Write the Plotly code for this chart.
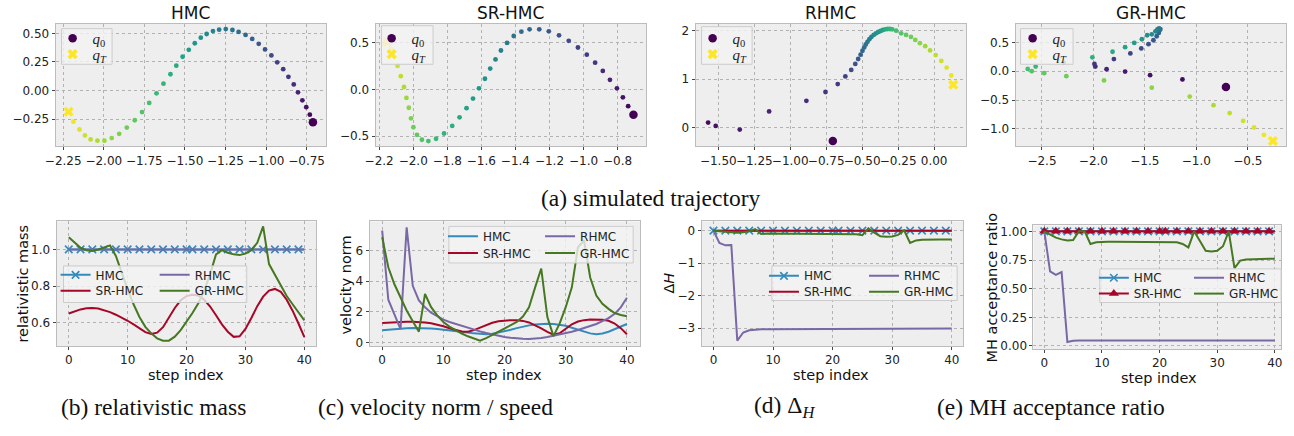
import plotly.graph_objects as go

W, H = 1294, 436


def px(x):
    return x / W


def py(y):
    return 1 - y / H


# ---------------- data ----------------
steps = list(range(41))
method_names = ["HMC", "SR-HMC", "RHMC", "GR-HMC"]

# simulated trajectories (q0 first, qT last)
hmc_x = [-0.711, -0.730, -0.752, -0.776, -0.803, -0.829, -0.862, -0.894, -0.931, -0.967, -1.006,
         -1.045, -1.085, -1.126, -1.169, -1.207, -1.248, -1.289, -1.327, -1.366, -1.402, -1.439,
         -1.476, -1.514, -1.553, -1.589, -1.632, -1.675, -1.720, -1.764, -1.809, -1.858, -1.905,
         -1.951, -1.996, -2.039, -2.081, -2.116, -2.150, -2.187, -2.217]
hmc_y = [-0.279, -0.212, -0.146, -0.086, -0.016, 0.053, 0.119, 0.186, 0.246, 0.307, 0.359, 0.408,
         0.451, 0.486, 0.512, 0.529, 0.537, 0.532, 0.520, 0.494, 0.462, 0.413, 0.356, 0.295, 0.217,
         0.142, 0.059, -0.025, -0.109, -0.189, -0.261, -0.325, -0.380, -0.417, -0.440, -0.440,
         -0.429, -0.394, -0.342, -0.273, -0.186]

sr_x = [-0.707, -0.738, -0.769, -0.804, -0.845, -0.887, -0.932, -0.981, -1.033, -1.087, -1.144,
        -1.204, -1.260, -1.317, -1.365, -1.410, -1.449, -1.485, -1.517, -1.548, -1.579, -1.614,
        -1.649, -1.687, -1.728, -1.771, -1.819, -1.866, -1.911, -1.949, -1.978, -1.999, -2.013,
        -2.026, -2.040, -2.054, -2.073, -2.092, -2.110, -2.130, -2.153]
sr_y = [-0.271, -0.180, -0.085, 0.011, 0.102, 0.197, 0.285, 0.370, 0.447, 0.518, 0.577, 0.620,
        0.641, 0.641, 0.616, 0.570, 0.496, 0.415, 0.320, 0.222, 0.113, 0.011, -0.099, -0.201,
        -0.299, -0.391, -0.472, -0.528, -0.553, -0.539, -0.486, -0.405, -0.310, -0.197, -0.092,
        0.025, 0.141, 0.250, 0.345, 0.430, 0.505]

rh_x = [-0.704, -1.571, -1.518, -1.351, -1.147, -0.888, -0.755, -0.670, -0.617, -0.576, -0.548,
        -0.528, -0.511, -0.498, -0.486, -0.475, -0.463, -0.450, -0.436, -0.420, -0.404, -0.388,
        -0.372, -0.356, -0.339, -0.323, -0.307, -0.291, -0.264, -0.229, -0.195, -0.161, -0.131,
        -0.099, -0.062, -0.028, 0.011, 0.050, 0.087, 0.119, 0.133]
rh_y = [-0.270, 0.108, 0.041, -0.034, 0.338, 0.554, 0.736, 0.899, 1.054, 1.189, 1.311, 1.412,
        1.500, 1.581, 1.649, 1.709, 1.764, 1.818, 1.865, 1.905, 1.939, 1.966, 1.986, 2.007, 2.020,
        2.027, 2.027, 2.020, 1.993, 1.939, 1.905, 1.865, 1.804, 1.736, 1.676, 1.588, 1.493, 1.372,
        1.236, 1.074, 0.885]

gr_x = [-0.712, -1.135, -1.449, -1.692, -1.872, -1.981, -1.990, -1.801, -1.641, -1.535, -1.465,
        -1.417, -1.385, -1.365, -1.356, -1.349, -1.362, -1.378, -1.397, -1.433, -1.478, -1.529,
        -1.603, -1.692, -1.814, -2.010, -2.288, -2.561, -2.638, -2.599, -2.478, -2.263, -1.897,
        -1.433, -1.064, -0.833, -0.676, -0.545, -0.439, -0.343, -0.256]
gr_y = [-0.274, -0.143, -0.069, -0.006, 0.034, 0.080, 0.126, 0.211, 0.309, 0.394, 0.469, 0.537,
        0.606, 0.663, 0.709, 0.731, 0.743, 0.726, 0.691, 0.640, 0.623, 0.554, 0.491, 0.417, 0.337,
        0.240, 0.154, 0.080, 0.040, 0.000, -0.034, -0.086, -0.160, -0.286, -0.440, -0.589, -0.726,
        -0.863, -0.977, -1.103, -1.211]

# relativistic mass
mass_hmc = [1.0] * 41
mass_rh = [1.0] * 41
mass_sr = [0.650, 0.662, 0.672, 0.678, 0.680, 0.677, 0.668, 0.657, 0.643, 0.627, 0.610, 0.590,
           0.568, 0.548, 0.538, 0.545, 0.575, 0.625, 0.680, 0.722, 0.745, 0.752, 0.748, 0.725,
           0.688, 0.640, 0.590, 0.550, 0.522, 0.525, 0.565, 0.625, 0.690, 0.742, 0.775, 0.784,
           0.768, 0.725, 0.665, 0.595, 0.520]
mass_gr = [1.067, 1.036, 1.009, 0.996, 0.991, 1.000, 1.013, 1.022, 0.964, 0.870, 0.780, 0.700,
           0.631, 0.577, 0.541, 0.514, 0.501, 0.501, 0.523, 0.559, 0.604, 0.652, 0.706, 0.775,
           0.865, 0.973, 0.996, 0.982, 0.973, 0.969, 0.978, 0.996, 1.036, 1.126, 0.920, 0.860,
           0.800, 0.745, 0.700, 0.655, 0.612]

# velocity norm
vel_hmc = [0.82, 0.86, 0.90, 0.93, 0.95, 0.96, 0.96, 0.95, 0.93, 0.90, 0.86, 0.82, 0.77, 0.72,
           0.66, 0.61, 0.57, 0.56, 0.58, 0.65, 0.74, 0.84, 0.95, 1.05, 1.13, 1.19, 1.22, 1.23,
           1.22, 1.18, 1.10, 0.98, 0.85, 0.72, 0.61, 0.56, 0.60, 0.72, 0.88, 1.05, 1.22]
vel_sr = [1.28, 1.31, 1.33, 1.35, 1.36, 1.36, 1.35, 1.32, 1.27, 1.18, 1.07, 0.94, 0.82, 0.73,
          0.72, 0.82, 0.98, 1.15, 1.30, 1.40, 1.45, 1.47, 1.46, 1.42, 1.32, 1.15, 0.93, 0.70, 0.52,
          0.62, 0.92, 1.20, 1.38, 1.47, 1.51, 1.52, 1.50, 1.43, 1.25, 0.95, 0.55]
vel_rh = [7.28, 2.80, 1.85, 0.88, 7.50, 3.70, 2.75, 2.30, 1.95, 1.70, 1.50, 1.35, 1.22, 1.10, 0.98,
          0.86, 0.74, 0.63, 0.53, 0.45, 0.38, 0.32, 0.28, 0.26, 0.25, 0.27, 0.31, 0.37, 0.45, 0.53,
          0.62, 0.72, 0.83, 0.95, 1.08, 1.22, 1.40, 1.60, 1.88, 2.30, 2.92]
vel_gr = [6.85, 4.90, 3.80, 2.90, 2.10, 1.40, 0.72, 3.17, 2.31, 1.78, 1.35, 1.05, 0.80, 0.60, 0.42,
          0.25, 0.13, 0.30, 0.50, 0.70, 0.90, 1.10, 1.35, 1.70, 2.30, 3.60, 4.82, 1.67, 0.43, 1.24,
          2.31, 3.60, 6.20, 6.64, 4.24, 3.06, 2.53, 2.20, 1.93, 1.80, 1.72]

# Delta H
dh_hmc = [0.0] * 41
dh_sr = [0.0] * 41
dh_rh = [0.0, -0.38, -0.45, -0.44, -3.38, -3.13, -3.06, -3.04, -3.03, -3.03, -3.03, -3.03, -3.03,
         -3.03, -3.03, -3.03, -3.02, -3.02, -3.02, -3.02, -3.02, -3.02, -3.02, -3.02, -3.02, -3.02,
         -3.02, -3.02, -3.02, -3.02, -3.02, -3.01, -3.01, -3.01, -3.01, -3.01, -3.01, -3.01, -3.01,
         -3.01, -3.01]
dh_gr = [0.0, -0.02, -0.04, -0.05, -0.06, -0.05, -0.02, 0.05, -0.10, -0.09, -0.09, -0.09, -0.09,
         -0.09, -0.09, -0.09, -0.09, -0.09, -0.09, -0.09, -0.09, -0.09, -0.09, -0.09, -0.11, -0.14,
         0.07, -0.06, -0.17, -0.19, -0.18, -0.13, 0.01, -0.38, -0.30, -0.28, -0.27, -0.27, -0.27,
         -0.27, -0.27]

# MH acceptance ratio
acc_hmc = [1.0] * 41
acc_sr = [1.0] * 41
acc_rh = [1.0, 0.65, 0.62, 0.645, 0.035, 0.045, 0.047, 0.048, 0.048, 0.048, 0.048, 0.048, 0.048,
          0.048, 0.048, 0.048, 0.048, 0.048, 0.048, 0.048, 0.048, 0.048, 0.048, 0.048, 0.048,
          0.048, 0.048, 0.048, 0.048, 0.048, 0.048, 0.048, 0.048, 0.048, 0.048, 0.048, 0.048,
          0.048, 0.048, 0.048, 0.048]
acc_gr = [1.0, 0.97, 0.945, 0.93, 0.92, 0.925, 1.0, 1.0, 0.89, 0.905, 0.91, 0.91, 0.91, 0.91,
          0.91, 0.91, 0.91, 0.91, 0.91, 0.91, 0.91, 0.91, 0.91, 0.905, 0.89, 0.86, 1.0, 0.92, 0.83,
          0.825, 0.83, 0.87, 1.0, 0.68, 0.745, 0.755, 0.758, 0.76, 0.76, 0.762, 0.762]

# steps where markers are drawn on the constant curves
marker_steps = [0, 2, 4, 6, 8, 10, 12, 14, 16, 18, 20, 21, 23, 25, 27, 29, 31, 33, 35, 37, 39]

# ---------------- style ----------------
C_HMC, C_SR, C_RH, C_GR = "#348ABD", "#A60628", "#7A68A6", "#467821"
V0, VT = "#440154", "#fde725"
FONT = "DejaVu Sans"
SERIF = "Liberation Serif"
TICK_SIZE = 12
LEG_SIZE = 12
LABEL_SIZE = 14.5
TITLE_SIZE = 17
CAP_SIZE = 23.5

fig = go.Figure()

# panel pixel boxes: (left, top, right, bottom)
boxes = [
    (45, 23, 318, 147), (368, 23, 641, 147), (691, 23, 964, 147), (1014, 23, 1287, 147),
    (46, 223, 308, 349), (362, 223, 635, 349), (697, 223, 961, 349), (1032, 227, 1282, 352),
]
ranges = [
    ([-2.297, -0.630], [-0.489, 0.584]),
    ([-2.221, -0.633], [-0.609, 0.701]),
    ([-1.658, 0.222], [-0.378, 2.135]),
    ([-2.756, -0.128], [-1.303, 0.823]),
    ([-2.07, 42.0], [0.472, 1.153]),
    ([-2.05, 42.16], [-0.21, 7.88]),
    ([-2.0, 41.9], [-3.546, 0.284]),
    ([-1.89, 41.09], [-0.026, 1.052]),
]
ticks = [
    ([-2.25, -2.0, -1.75, -1.5, -1.25, -1.0, -0.75], ".2f", [-0.25, 0.0, 0.25, 0.5], ".2f"),
    ([-2.2, -2.0, -1.8, -1.6, -1.4, -1.2, -1.0, -0.8], ".1f", [-0.5, 0.0, 0.5], ".1f"),
    ([-1.5, -1.25, -1.0, -0.75, -0.5, -0.25, 0.0], ".2f", [0, 1, 2], "d"),
    ([-2.5, -2.0, -1.5, -1.0, -0.5], ".1f", [-1.0, -0.5, 0.0, 0.5], ".1f"),
    ([0, 10, 20, 30, 40], "d", [0.6, 0.8, 1.0], ".1f"),
    ([0, 10, 20, 30, 40], "d", [0, 2, 4, 6], "d"),
    ([0, 10, 20, 30, 40], "d", [-3, -2, -1, 0], "d"),
    ([0, 10, 20, 30, 40], "d", [0.0, 0.25, 0.5, 0.75, 1.0], ".2f"),
]

axis_common = dict(
    showgrid=True, gridcolor="#b2b2b2", griddash="dot", gridwidth=0.8,
    showline=True, linecolor="#bcbcbc", linewidth=1, mirror=True,
    ticks="outside", ticklen=3, tickwidth=0.8, tickcolor="#444", tickangle=0,
    tickfont=dict(family=FONT, size=TICK_SIZE, color="#222"), zeroline=False,
)

layout_axes = {}
for i, ((l, t, r, b), (xr, yr), (xt, xf, yt, yf)) in enumerate(zip(boxes, ranges, ticks)):
    n = "" if i == 0 else str(i + 1)
    layout_axes["xaxis" + n] = dict(axis_common, domain=[px(l), px(r)], range=xr, tickvals=xt,
                                    tickformat=xf, anchor="y" + n)
    layout_axes["yaxis" + n] = dict(axis_common, domain=[py(b), py(t)], range=yr, tickvals=yt,
                                    tickformat=yf, anchor="x" + n)


def ax(i):
    n = "" if i == 0 else str(i + 1)
    return dict(xaxis="x" + n, yaxis="y" + n)


legends = {}


def add_legend(x_left_px, y_center_px, font=None):
    n = len(legends) + 1
    name = "legend" if n == 1 else "legend%d" % n
    legends[name] = dict(
        x=px(x_left_px), y=py(y_center_px), xanchor="left", yanchor="middle",
        bgcolor="rgba(0,0,0,0)", borderwidth=0,
        font=font or dict(family=FONT, size=LEG_SIZE, color="#222"),
    )
    return name


shapes = []


def add_box(l, t, r, b):
    shapes.append(dict(type="rect", xref="paper", yref="paper", x0=px(l), x1=px(r), y0=py(b),
                       y1=py(t), fillcolor="rgba(242,242,242,0.8)",
                       line=dict(color="#cccccc", width=1), layer="above"))


# ---------------- top row: trajectories ----------------
trajs = [(hmc_x, hmc_y), (sr_x, sr_y), (rh_x, rh_y), (gr_x, gr_y)]
top_leg_boxes = [(51, 28, 102, 64), (374, 25, 426, 64), (697, 26, 748, 64), (1019, 28, 1072, 64)]
top_leg_marker_x = [67, 389, 713, 1036]
qfont = dict(family=SERIF, size=15, color="#222")
for i, (tx, ty) in enumerate(trajs):
    fig.add_trace(go.Scatter(
        x=tx[1:-1], y=ty[1:-1], mode="markers", showlegend=False,
        marker=dict(color=steps[1:-1], colorscale="Viridis", cmin=0, cmax=40, size=4.8,
                    line=dict(width=0)),
        **ax(i)))
    l0 = add_legend(top_leg_marker_x[i] - 25, 38, qfont)
    fig.add_trace(go.Scatter(x=[tx[0]], y=[ty[0]], mode="markers", name="<i>q</i><sub>0</sub>",
                             marker=dict(color=V0, size=8.5, symbol="circle"), legend=l0,
                             **ax(i)))
    l1 = add_legend(top_leg_marker_x[i] - 25, 54, qfont)
    fig.add_trace(go.Scatter(x=[tx[-1]], y=[ty[-1]], mode="markers",
                             name="<i>q</i><sub><i>T</i></sub>",
                             marker=dict(color=VT, size=9, symbol="x", line=dict(width=0)),
                             legend=l1, **ax(i)))
    add_box(*top_leg_boxes[i])

# ---------------- bottom row ----------------
bottom = [
    # panel idx, series, hmc markers, sr markers, legend box, col x, rows
    (4, [mass_hmc, mass_sr, mass_rh, mass_gr], True, False, (53, 268, 238, 305), (55, 155), (277, 293)),
    (5, [vel_hmc, vel_sr, vel_rh, vel_gr], False, False, (442, 228, 628, 265), (446, 544), (238, 255)),
    (6, [dh_hmc, dh_sr, dh_rh, dh_gr], True, False, (768, 268, 955, 303), (770, 871), (278, 294)),
    (7, [acc_hmc, acc_sr, acc_rh, acc_gr], True, True, (1099, 271, 1282, 305), (1103, 1199), (280, 296)),
]
colors = [C_HMC, C_SR, C_RH, C_GR]
hmc_marker = dict(symbol="x-thin", size=7.5, color=C_HMC, line=dict(color=C_HMC, width=1.6))
sr_marker = dict(symbol="triangle-up", size=9, color=C_SR, line=dict(width=0))

for (pi, series, hmc_mk, sr_mk, lbox, cols, rows) in bottom:
    add_box(*lbox)
    pos = [(cols[0], rows[0]), (cols[0], rows[1]), (cols[1], rows[0]), (cols[1], rows[1])]
    for k, (name, ys, col) in enumerate(zip(method_names, series, colors)):
        lg = add_legend(pos[k][0] - 10, pos[k][1])
        has_mk = (k == 0 and hmc_mk) or (k == 1 and sr_mk)
        mk = hmc_marker if k == 0 else sr_marker
        fig.add_trace(go.Scatter(x=steps, y=ys, mode="lines", line=dict(color=col, width=2),
                                 name=name, showlegend=not has_mk, legend=lg, **ax(pi)))
        if has_mk:
            fig.add_trace(go.Scatter(x=marker_steps, y=[ys[s] for s in marker_steps],
                                     mode="markers", marker=mk, showlegend=False, **ax(pi)))
            fig.add_trace(go.Scatter(x=[None], y=[None], mode="lines+markers",
                                     line=dict(color=col, width=2), marker=mk, name=name,
                                     legend=lg, showlegend=True, **ax(pi)))

# ---------------- annotations ----------------
ann = []


def text(x, y, s, size, family=FONT, angle=0):
    ann.append(dict(x=px(x), y=py(y), xref="paper", yref="paper", text=s, showarrow=False,
                    xanchor="center", yanchor="middle", textangle=angle,
                    font=dict(family=family, size=size, color="#111")))


for (l, t, r, b), title in zip(boxes[:4], method_names):
    text((l + r) / 2, 12, title, TITLE_SIZE)

text(645, 199, "(a) simulated trajectory", CAP_SIZE, SERIF)
text(144, 411, "(b) relativistic mass", CAP_SIZE, SERIF)
text(428, 411, "(c) velocity norm / speed", CAP_SIZE, SERIF)
text(781, 411, "(d) Δ<sub><i>H</i></sub>", CAP_SIZE, SERIF)
text(1050, 411, "(e) MH acceptance ratio", CAP_SIZE, SERIF)

text(12, 286, "relativistic mass", LABEL_SIZE, angle=-90)
text(338, 287, "velocity norm", LABEL_SIZE, angle=-90)
text(664, 285, "Δ<i>H</i>", LABEL_SIZE, angle=-90)
text(990, 290, "MH acceptance ratio", LABEL_SIZE, angle=-90)
for xc, yc in ((177, 378), (498, 378), (828, 378), (1159, 381)):
    text(xc, yc, "step index", LABEL_SIZE)

fig.update_layout(
    width=W, height=H, margin=dict(l=0, r=0, t=0, b=0),
    paper_bgcolor="white", plot_bgcolor="#eeeeee",
    annotations=ann, shapes=shapes,
    **layout_axes, **legends,
)

fig.write_html("out.html")
